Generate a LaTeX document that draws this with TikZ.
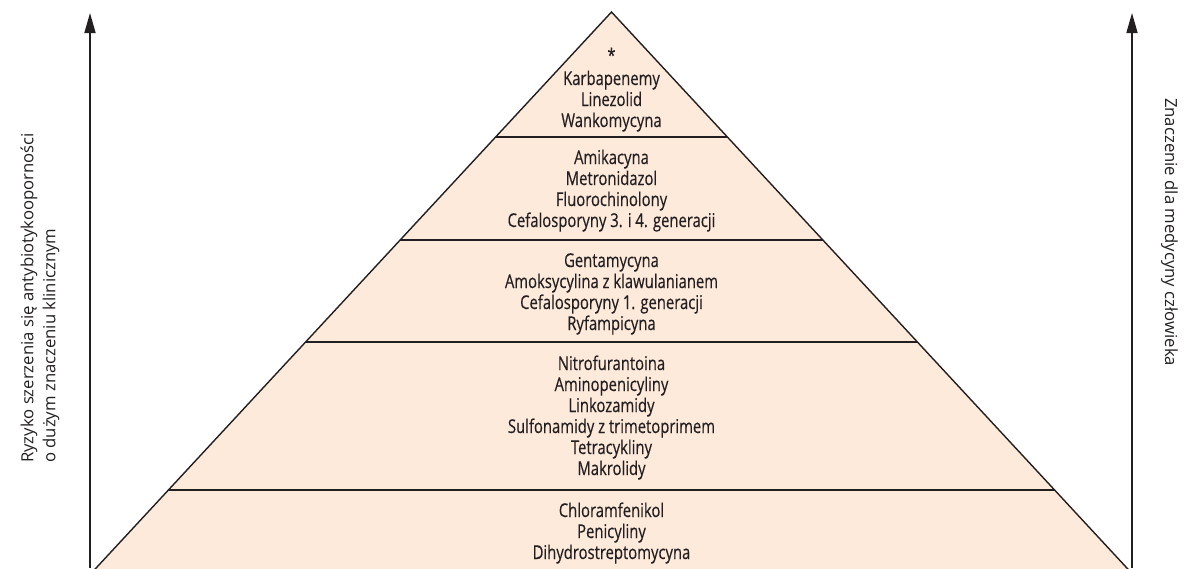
\documentclass[tikz,border=0pt]{standalone}
\usepackage{fontspec}
\setmainfont{Open Sans}
\newfontfamily\narrowfont[FakeStretch=0.78,FakeBold=0.35]{Open Sans}
\usetikzlibrary{arrows.meta}
\definecolor{peach}{RGB}{253,234,219}
\definecolor{ink}{RGB}{35,31,32}
\begin{document}
\begin{tikzpicture}[x=1pt,y=-1pt,
  bandtext/.style={font=\narrowfont\fontsize{19}{21}\selectfont, align=center, text=ink, inner sep=0pt, anchor=base},
  axislabel/.style={font=\fontsize{16.7}{22}\selectfont, text=ink, inner sep=0pt, anchor=base west},
  divider/.style={line width=2pt, draw=ink},
  edge/.style={line width=1.4pt, draw=ink},
  axisarrow/.style={line width=1.6pt, draw=ink, -{Triangle[length=20pt,width=11pt]}}]
\useasboundingbox (0,0) rectangle (1189,568);
% pyramid
\coordinate (apex) at (611.5,12);
\coordinate (bl) at (92.4,572);
\coordinate (br) at (1130.6,572);
\filldraw[edge, fill=peach] (apex) -- (bl) -- (br) -- cycle;
% dividers
\coordinate (d1l) at (495.6,137); \coordinate (d1r) at (727.4,137);
\coordinate (d2l) at (400.1,240); \coordinate (d2r) at (822.9,240);
\coordinate (d3l) at (305.6,342); \coordinate (d3r) at (917.4,342);
\coordinate (d4l) at (168.4,490); \coordinate (d4r) at (1054.6,490);
\draw[divider] (d1l) -- (d1r);
\draw[divider] (d2l) -- (d2r);
\draw[divider] (d3l) -- (d3r);
\draw[divider] (d4l) -- (d4r);
% axes
\coordinate (la0) at (90,568); \coordinate (la1) at (90,13);
\coordinate (ra0) at (1132,568); \coordinate (ra1) at (1132,13);
\draw[axisarrow] (la0) -- (la1);
\draw[axisarrow] (ra0) -- (ra1);
% axis labels
\node[axislabel, rotate=90] (ll1) at (33.3,463) {Ryzyko szerzenia się antybiotykooporności};
\node[axislabel, rotate=90] (ll2) at (55.3,463) {o dużym znaczeniu klinicznym};
\node[axislabel, rotate=-90] (rl) at (1165,98) {Znaczenie dla medycyny człowieka};
% band texts (anchored at the baseline of the last line)
\node[bandtext] (b1) at (611.5,127) {*\\[2pt]Karbapenemy\\Linezolid\\Wankomycyna};
\node[bandtext] (b2) at (611.5,227) {Amikacyna\\Metronidazol\\Fluorochinolony\\Cefalosporyny 3. i 4. generacji};
\node[bandtext] (b3) at (611.5,330) {Gentamycyna\\Amoksycylina z klawulanianem\\Cefalosporyny 1. generacji\\Ryfampicyna};
\node[bandtext] (b4) at (611.5,475) {Nitrofurantoina\\Aminopenicyliny\\Linkozamidy\\Sulfonamidy z trimetoprimem\\Tetracykliny\\Makrolidy};
\node[bandtext] (b5) at (611.5,559) {Chloramfenikol\\Penicyliny\\Dihydrostreptomycyna};
\end{tikzpicture}
\end{document}
